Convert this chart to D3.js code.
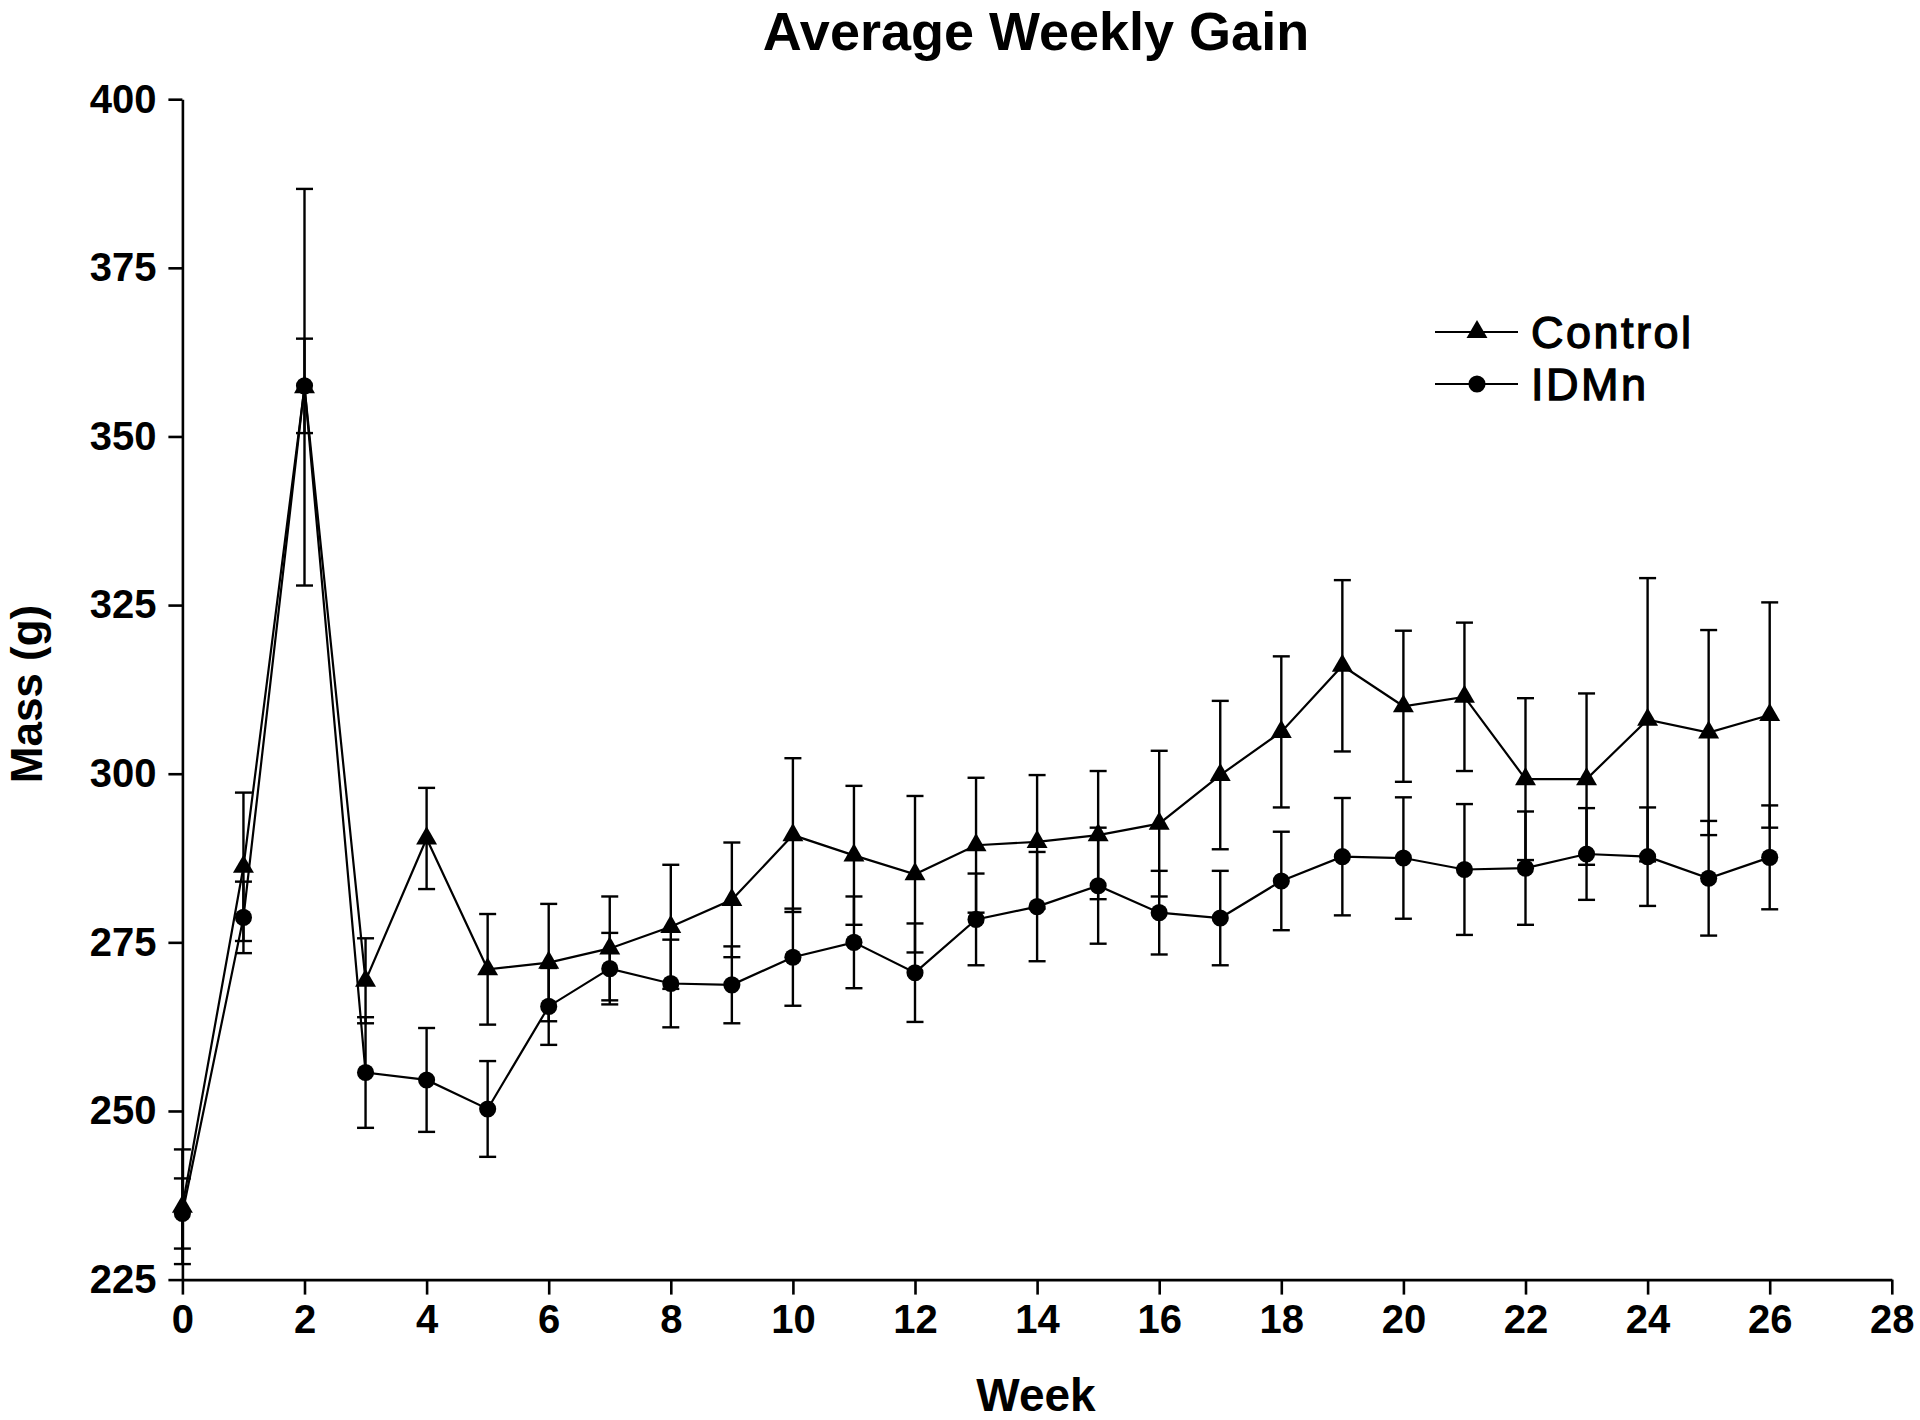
<!DOCTYPE html>
<html>
<head>
<meta charset="utf-8">
<script src="https://cdn.jsdelivr.net/npm/d3@7"></script>
<style>
  html, body { margin: 0; padding: 0; background: #fff; }
  svg { display: block; }
  text { font-family: "Liberation Sans", Arial, Helvetica, sans-serif; fill: #000; }
</style>
</head>
<body>
<svg id="chart" width="1920" height="1420"></svg>
<script>
// ---- Data ----
const weeks = [0,1,2,3,4,5,6,7,8,9,10,11,12,13,14,15,16,17,18,19,20,21,22,23,24,25,26];
const controlMean = [235.8, 286.2, 357.3, 269.3, 290.4, 271.0, 272.0, 274.1, 277.3, 281.3, 290.9, 287.9, 285.1, 289.4, 289.9, 290.9, 292.6, 299.8, 306.2, 316.0, 310.0, 311.4, 299.2, 299.2, 308.0, 306.1, 308.7];
const controlErr  = [8.5, 11.0, 29.4, 6.3, 7.5, 8.2, 8.7, 7.7, 9.2, 8.5, 11.4, 10.3, 11.6, 10.0, 9.9, 9.5, 10.8, 11.0, 11.2, 12.7, 11.2, 11.0, 12.0, 12.7, 21.0, 15.2, 16.7];
const idmnMean    = [234.8, 278.7, 357.5, 255.7, 254.6, 250.3, 265.5, 271.1, 268.9, 268.7, 272.8, 275.0, 270.5, 278.4, 280.3, 283.4, 279.4, 278.6, 284.1, 287.7, 287.5, 285.8, 286.0, 288.1, 287.7, 284.5, 287.6];
const idmnErr     = [5.2, 5.3, 7.0, 8.2, 7.7, 7.1, 5.7, 5.3, 6.5, 5.7, 7.2, 6.8, 7.3, 6.8, 8.1, 8.6, 6.2, 7.0, 7.3, 8.7, 9.0, 9.7, 8.4, 6.8, 7.3, 8.5, 7.7];
const xTicks = [0,2,4,6,8,10,12,14,16,18,20,22,24,26,28];
const yTicks = [225,250,275,300,325,350,375,400];
const seriesNames = ["Control", "IDMn"];
const titleText = "Average Weekly Gain";
const xLabel = "Week";
const yLabel = "Mass (g)";

// ---- Layout ----
const W = 1920, H = 1420;
const margin = {left: 182.4, right: 28.2, top: 99.2, bottom: 140.4};
const svg = d3.select("#chart");

const x = d3.scaleLinear().domain([0, 28]).range([margin.left, W - margin.right]);
const y = d3.scaleLinear().domain([225, 400]).range([H - margin.bottom, margin.top]);

const series = [
  {name: seriesNames[0], mean: controlMean, err: controlErr, symbol: d3.symbolTriangle, size: 190},
  {name: seriesNames[1], mean: idmnMean, err: idmnErr, symbol: d3.symbolCircle, size: 230}
];

// Title
svg.append("text")
  .attr("x", 1036).attr("y", 50)
  .attr("text-anchor", "middle")
  .attr("font-size", 54).attr("font-weight", "bold")
  .text(titleText);

// Axes
const xAxis = d3.axisBottom(x).tickValues(xTicks).tickSize(15).tickSizeOuter(0).tickPadding(10).tickFormat(d3.format("d"));
const yAxis = d3.axisLeft(y).tickValues(yTicks).tickSize(14).tickSizeOuter(0).tickPadding(12).tickFormat(d3.format("d"));

const gx = svg.append("g").attr("transform", `translate(0,${H - margin.bottom})`).call(xAxis);
const gy = svg.append("g").attr("transform", `translate(${margin.left},0)`).call(yAxis);
[gx, gy].forEach(g => {
  g.select(".domain").attr("stroke", "#000").attr("stroke-width", 2.6);
  g.selectAll(".tick line").attr("stroke", "#000").attr("stroke-width", 2.6);
  g.selectAll(".tick text")
    .attr("font-family", '"Liberation Sans", Arial, sans-serif')
    .attr("font-size", 40).attr("font-weight", "bold").attr("fill", "#000");
});

// Axis labels
svg.append("text")
  .attr("x", 1036).attr("y", 1411)
  .attr("text-anchor", "middle")
  .attr("font-size", 46).attr("font-weight", "bold")
  .text(xLabel);
svg.append("text")
  .attr("transform", `translate(42,694) rotate(-90)`)
  .attr("text-anchor", "middle")
  .attr("font-size", 44).attr("font-weight", "bold")
  .text(yLabel);

// Error bars
const capHalf = 8.5;
series.forEach(s => {
  const g = svg.append("g").attr("stroke", "#000").attr("stroke-width", 2.4).attr("fill", "none");
  weeks.forEach((w, i) => {
    const cx = x(w), top = y(s.mean[i] + s.err[i]), bot = y(s.mean[i] - s.err[i]);
    g.append("line").attr("x1", cx).attr("x2", cx).attr("y1", top).attr("y2", bot);
    g.append("line").attr("x1", cx - capHalf).attr("x2", cx + capHalf).attr("y1", top).attr("y2", top);
    g.append("line").attr("x1", cx - capHalf).attr("x2", cx + capHalf).attr("y1", bot).attr("y2", bot);
  });
});

// Lines
const line = d3.line().x((d, i) => x(weeks[i])).y(d => y(d));
series.forEach(s => {
  svg.append("path").datum(s.mean)
    .attr("d", line)
    .attr("fill", "none").attr("stroke", "#000").attr("stroke-width", 2.2);
});

// Markers
series.forEach(s => {
  const sym = d3.symbol().type(s.symbol).size(s.size);
  svg.append("g").selectAll("path").data(s.mean).join("path")
    .attr("transform", (d, i) => `translate(${x(weeks[i])},${y(d)})`)
    .attr("d", sym)
    .attr("fill", "#000");
});

// Legend
const legY = [332, 384];
series.forEach((s, i) => {
  const g = svg.append("g");
  g.append("line").attr("x1", 1435).attr("x2", 1518).attr("y1", legY[i]).attr("y2", legY[i])
    .attr("stroke", "#000").attr("stroke-width", 2.2);
  g.append("path").attr("transform", `translate(1477,${legY[i]})`)
    .attr("d", d3.symbol().type(s.symbol).size(s.size)()).attr("fill", "#000");
  g.append("text").attr("x", 1531).attr("y", legY[i] + 16)
    .attr("font-size", 45).attr("letter-spacing", 2.5)
    .attr("stroke", "#000").attr("stroke-width", 1.3)
    .text(s.name);
});
</script>
</body>
</html>
